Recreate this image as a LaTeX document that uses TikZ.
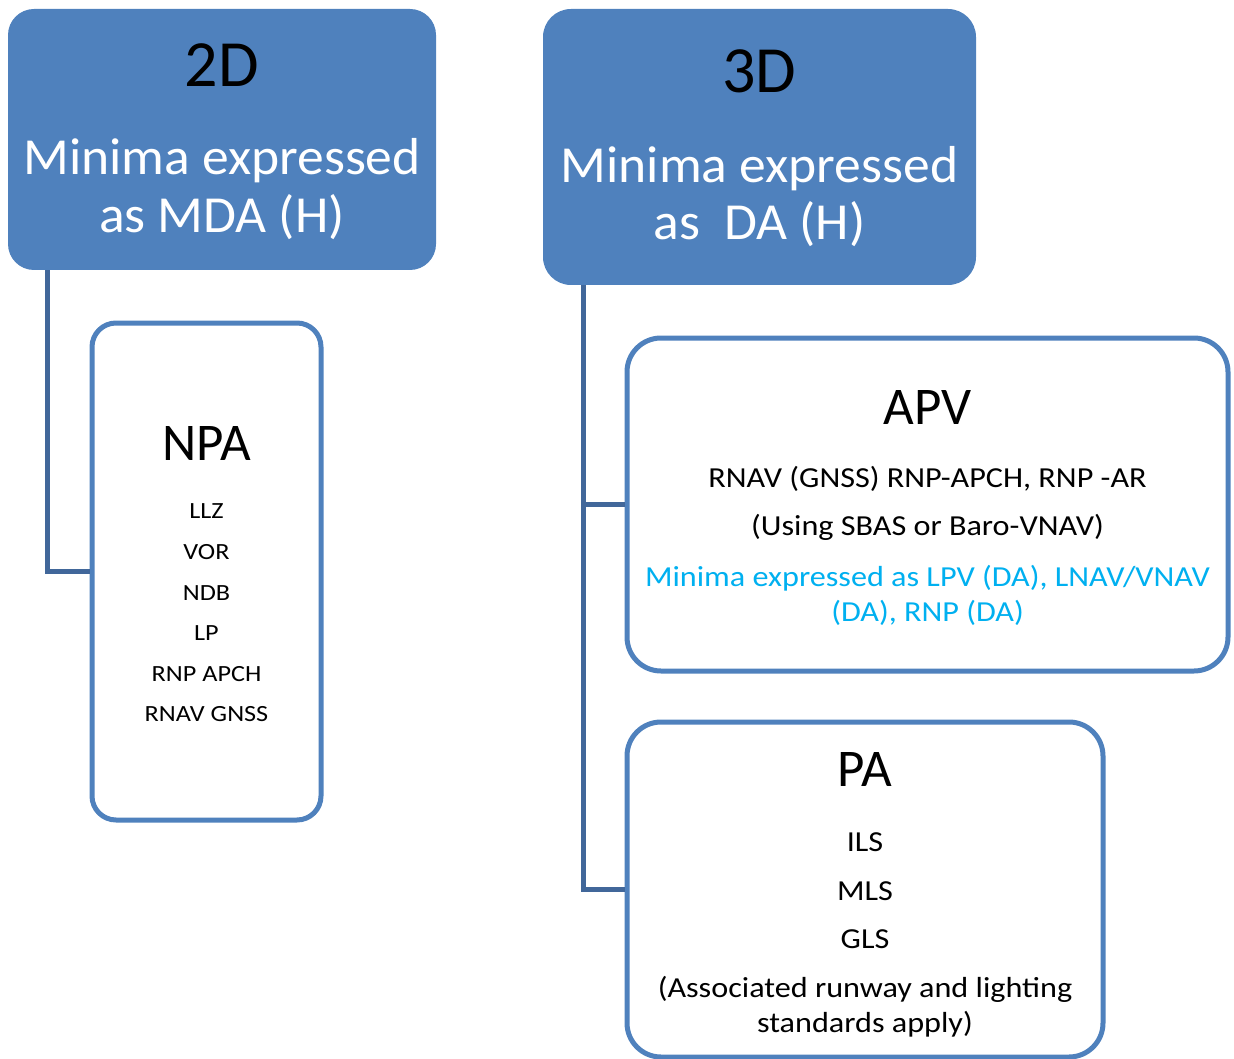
\documentclass[tikz,border=0pt]{standalone}
\usepackage{fontspec}
\setmainfont{Carlito}
\newfontfamily\headfont[FakeStretch=1.03]{Carlito}
\newfontfamily\bodyfont[FakeStretch=1.11]{Carlito}
\newfontfamily\smallfont[FakeStretch=1.13]{Carlito}
\definecolor{accent}{HTML}{4F81BD}
\definecolor{connclr}{HTML}{41679A}
\definecolor{cyantext}{HTML}{00B0F0}
\newcommand{\fsz}[1]{\fontsize{#1}{#1}\selectfont}

\begin{document}
\begin{tikzpicture}[x=1pt,y=-1pt,
  headbox/.style={fill=accent, inner sep=0pt},
  itembox/.style={draw=accent, line width=5pt, fill=white, inner sep=0pt},
  conn/.style={draw=connclr, line width=5pt},
  txt/.style={anchor=base, inner sep=0pt, align=center},
  headtxt/.style={txt, text=white, font=\headfont\fsz{52}},
  titletxt/.style={txt, font=\fsz{66}},
  itemtitle/.style={txt, font=\fsz{53}},
  smalltxt/.style={txt, font=\smallfont\fsz{23.2}},
  bodytxt/.style={txt, font=\bodyfont\fsz{29}}
]
\useasboundingbox (0,0) rectangle (1234,1059);

% header boxes
\node[headbox, rounded corners=26pt, minimum width=428pt, minimum height=261pt] (d2) at (222,139.5) {};
\node[headbox, rounded corners=28pt, minimum width=433pt, minimum height=276pt] (d3) at (759.5,147) {};

% item boxes
\node[itembox, rounded corners=24pt, minimum width=229pt, minimum height=497pt] (npa) at (206.5,571.5) {};
\node[itembox, rounded corners=34pt, minimum width=601pt, minimum height=333pt] (apv) at (927.5,504.5) {};
\node[itembox, rounded corners=34pt, minimum width=476pt, minimum height=335pt] (pa) at (865,889.5) {};

% connectors
\draw[conn] ([xshift=40pt]d2.south west) |- (npa.west);
\draw[conn] ([xshift=41pt]d3.south west) |- (apv.west);
\draw[conn] ([xshift=41pt]d3.south west) |- (pa.west);

% header texts
\node[titletxt] (d2t) at (222,87) {2D};
\node[headtxt] (d2a) at (222,175) {Minima expressed};
\node[headtxt] (d2b) at (222,233) {as MDA (H)};
\node[titletxt] (d3t) at (759.5,93) {3D};
\node[headtxt] (d3a) at (759.5,183) {Minima expressed};
\node[headtxt] (d3b) at (759.5,240) {as~~DA (H)};

% NPA
\node[itemtitle] (npat) at (206.5,460) {NPA};
\node[smalltxt] (n1) at (206.5,518) {LLZ};
\node[smalltxt] (n2) at (206.5,559) {VOR};
\node[smalltxt] (n3) at (206.5,600) {NDB};
\node[smalltxt] (n4) at (206.5,640) {LP};
\node[smalltxt] (n5) at (206.5,681) {RNP APCH};
\node[smalltxt] (n6) at (206.5,721) {RNAV GNSS};

% APV
\node[itemtitle] (apvt) at (927.5,424) {APV};
\node[bodytxt] (a1) at (927.5,487) {RNAV (GNSS) RNP-APCH, RNP -AR};
\node[bodytxt] (a2) at (927.5,535) {(Using SBAS or Baro-VNAV)};
\node[bodytxt, text=cyantext] (a3) at (927.5,586) {Minima expressed as LPV (DA), LNAV/VNAV};
\node[bodytxt, text=cyantext] (a4) at (927.5,621) {(DA), RNP (DA)};

% PA
\node[itemtitle] (pat) at (865,786) {PA};
\node[bodytxt] (p1) at (865,851) {ILS};
\node[bodytxt] (p2) at (865,900) {MLS};
\node[bodytxt] (p3) at (865,948) {GLS};
\node[bodytxt] (p4) at (865,997) {(Associated runway and lighting};
\node[bodytxt] (p5) at (865,1032) {standards apply)};
\end{tikzpicture}
\end{document}
